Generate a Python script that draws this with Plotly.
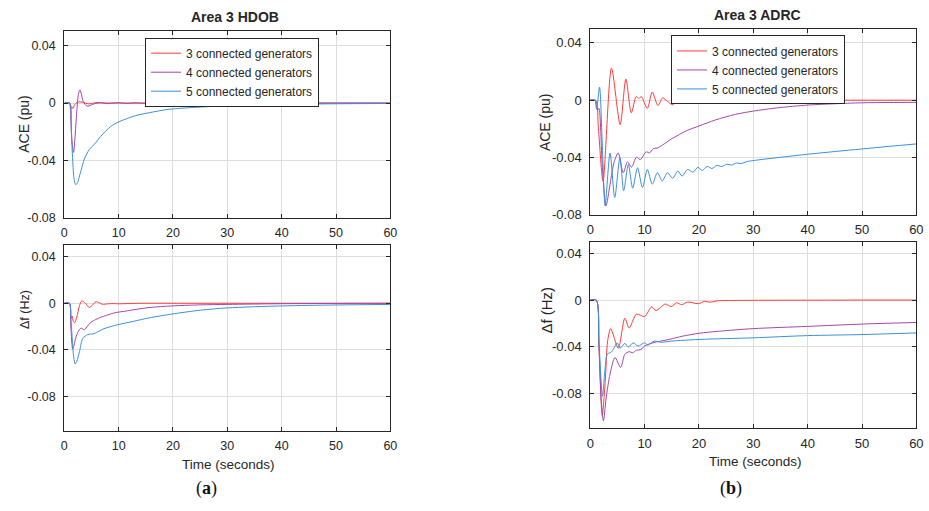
import plotly.graph_objects as go

# ---------------- data ----------------
series_names = ["3 connected generators", "4 connected generators", "5 connected generators"]
x_ticks = [0, 10, 20, 30, 40, 50, 60]
x_tick_text = ["0", "10", "20", "30", "40", "50", "60"]
y_ticks = [-0.08, -0.04, 0, 0.04]
y_tick_text = ["-0.08", "-0.04", "0", "0.04"]

# Area 3 HDOB - ACE (pu)
hdob_ace_t3 = [0, 1.0, 1.15, 1.35, 1.6, 1.9, 2.3, 2.9, 3.6, 4.4, 5.2, 6.0, 7.0, 8.0, 9.0, 10.0, 11.5, 13, 15, 20, 30, 60]
hdob_ace_v3 = [0, 0, -0.0042, -0.0025, -0.0038, -0.0012, 0.0004, 0.0009, 0.0003, -0.0006, -0.0002, 0.0004, 0.0001,
               -0.0004, 0.0, 0.0003, -0.0003, 0.0002, -0.0002, 0, 0, 0]
hdob_ace_t4 = [0, 0.95, 1.2, 1.45, 1.7, 1.95, 2.3, 2.6, 2.85, 3.1, 3.5, 4.2, 4.9, 5.6, 6.5, 8, 10, 15, 60]
hdob_ace_v4 = [0, 0, -0.012, -0.028, -0.0345, -0.025, -0.006, 0.006, 0.0092, 0.007, 0.001, -0.0022, -0.0015, -0.0004,
               0.0001, 0, 0, 0, 0]
hdob_ace_t5 = [0, 1.0, 1.3, 1.55, 1.8, 2.1, 2.45, 2.8, 3.1, 3.7, 4.6, 5.5, 6.7, 8.5, 10.1, 11.6, 13.1, 15.7, 19.2, 25,
               30, 40, 50, 60]
hdob_ace_v5 = [0, 0, -0.02, -0.04, -0.053, -0.057, -0.0555, -0.051, -0.047, -0.039, -0.0325, -0.029, -0.0233, -0.0165,
               -0.013, -0.0108, -0.0088, -0.0067, -0.0044, -0.0028, -0.0019, -0.001, -0.0005, -0.0003]

# Area 3 HDOB - delta f (Hz)
hdob_df_t3 = [0, 0.95, 1.25, 1.45, 1.65, 1.9, 2.3, 2.8, 3.2, 3.9, 4.6, 5.2, 5.8, 6.4, 7.0, 8.0, 9.0, 10, 12, 15, 20, 60]
hdob_df_v3 = [0, 0, -0.013, -0.011, -0.0155, -0.0168, -0.012, -0.002, 0.0019, 0.0, -0.0037, -0.0015, 0.0013, 0.0005,
              -0.0009, -0.0005, -0.0003, -0.0005, -0.0002, 0, 0, 0]
hdob_df_t4 = [0, 0.95, 1.2, 1.55, 1.8, 2.1, 2.6, 3.1, 3.7, 4.3, 4.9, 5.8, 6.7, 7.9, 9.1, 11.6, 15.6, 19.8, 25, 30, 40, 60]
hdob_df_v4 = [0, 0, -0.02, -0.0395, -0.036, -0.03, -0.024, -0.0214, -0.0228, -0.0195, -0.0163, -0.014, -0.0121,
              -0.0102, -0.0084, -0.0065, -0.0037, -0.0023, -0.0014, -0.001, -0.0004, 0]
hdob_df_t5 = [0, 0.95, 1.2, 1.5, 1.75, 2.0, 2.3, 2.8, 3.4, 4.3, 5.5, 7.3, 9.8, 12.8, 15.6, 19.8, 25, 30, 40, 50, 60]
hdob_df_v5 = [0, 0, -0.012, -0.033, -0.047, -0.0522, -0.05, -0.0416, -0.0303, -0.027, -0.0261, -0.0219, -0.0185,
              -0.0155, -0.0126, -0.0093, -0.006, -0.004, -0.0023, -0.0015, -0.001]

# Area 3 ADRC - ACE (pu)
adrc_ace_t3 = [0, 1.0, 1.5, 2.35, 3.9, 5.5, 6.55, 7.55, 8.45, 8.95, 9.4, 10.5, 11.4, 12.45, 13.3, 14.2, 15.2, 16.2,
               17.2, 18.2, 19.2, 20.2, 21.1, 22.3, 23.5, 25, 30, 40, 50, 60]
adrc_ace_v3 = [0, 0, -0.02, -0.0563, 0.0223, -0.017, 0.0148, -0.0088, 0.0025, 0.0012, 0.0025, -0.0057, 0.0057,
               -0.0037, 0.0016, -0.0008, -0.0032, 0.002, -0.0016, 0.001, -0.0004, -0.0012, 0.0002, -0.001, 0, 0, 0,
               0, 0, 0]
adrc_ace_t4 = [0, 0.9, 1.15, 1.33, 1.58, 2.2, 2.9, 3.64, 4.4, 5.15, 6.06, 6.85, 7.58, 8.5, 9.2, 10.3, 10.9, 11.6,
               12.4, 13.3, 14.1, 15.0, 15.9, 16.9, 18.2, 20.0, 23, 26.7, 30, 34.5, 40, 44.8, 50, 55, 60]
adrc_ace_v4 = [0, 0, -0.006, -0.0069, -0.0057, -0.045, -0.0736, -0.0586, -0.043, -0.0368, -0.0506, -0.043, -0.0467,
               -0.0398, -0.0414, -0.036, -0.0368, -0.0338, -0.0333, -0.0312, -0.0292, -0.0268, -0.025, -0.0228,
               -0.0205, -0.018, -0.0138, -0.0099, -0.0076, -0.0053, -0.0034, -0.0025, -0.0018, -0.0016, -0.0015]
adrc_ace_t5 = [0, 0.9, 1.2, 1.7, 2.2, 2.73, 3.64, 4.5, 5.45, 6.15, 7.0, 7.8, 8.7, 9.6, 10.5, 11.4, 12.35, 13.25, 14.2,
               15.15, 16.1, 16.9, 17.9, 18.9, 19.8, 20.6, 21.5, 22.4, 23.3, 24.2, 25.1, 26.0, 26.9, 27.8, 28.7, 30,
               35, 40, 45, 50, 55, 60]
adrc_ace_v5 = [0, 0, -0.005, 0.0092, -0.03, -0.0736, -0.0368, -0.0678, -0.0402, -0.0632, -0.0448, -0.0614, -0.0471,
               -0.0609, -0.0483, -0.0586, -0.0506, -0.0563, -0.0506, -0.0545, -0.0494, -0.0529, -0.0483, -0.0502,
               -0.0468, -0.049, -0.0462, -0.0476, -0.0455, -0.0463, -0.0447, -0.0452, -0.0438, -0.0442, -0.0429,
               -0.0421, -0.0398, -0.0377, -0.0358, -0.034, -0.0322, -0.0305]

# Area 3 ADRC - delta f (Hz)
adrc_df_t3 = [0, 1.1, 1.6, 2.2, 2.75, 3.2, 3.76, 5.15, 6.36, 7.15, 8.5, 10.0, 11.3, 12.1, 13.8, 14.9, 15.9, 16.8, 17.9,
              19.9, 21.0, 22.0, 23.5, 25, 30, 40, 50, 60]
adrc_df_v3 = [0, 0, -0.04, -0.099, -0.07, -0.035, -0.0245, -0.0414, -0.0155, -0.024, -0.0121, -0.0141, -0.0058,
              -0.009, -0.0034, -0.0056, -0.0023, -0.004, -0.0017, -0.0031, -0.0011, -0.0018, -0.0006, -0.0004,
              -0.0002, -0.0001, 0, 0]
adrc_df_t4 = [0, 1.1, 1.6, 2.0, 2.42, 2.9, 3.64, 4.55, 5.58, 6.36, 7.15, 7.8, 8.5, 9.3, 10, 11.5, 14.5, 17, 20, 23.6,
              30, 40, 50, 60]
adrc_df_v4 = [0, 0, -0.04, -0.085, -0.1037, -0.085, -0.0634, -0.0493, -0.0578, -0.0465, -0.0443, -0.0452, -0.0431,
              -0.0425, -0.0395, -0.0367, -0.0338, -0.031, -0.0285, -0.0268, -0.0245, -0.0226, -0.0206, -0.0192]
adrc_df_t5 = [0, 1.1, 1.6, 2.25, 2.7, 3.15, 3.94, 4.97, 5.45, 6.36, 6.97, 7.88, 8.8, 10.0, 10.6, 11.8, 13, 15, 20, 30,
              40, 50, 60]
adrc_df_v5 = [0, 0, -0.036, -0.0826, -0.06, -0.0465, -0.0443, -0.0367, -0.0414, -0.0372, -0.0403, -0.0367, -0.0395,
              -0.0367, -0.0386, -0.0352, -0.0362, -0.0352, -0.0338, -0.0324, -0.0305, -0.0296, -0.0282]

# ---------------- styling ----------------
W, H = 929, 511
colors = ["#ff3b3b", "#a347a8", "#3b8fd9"]
axis_col = "#262626"
grid_col = "#dedede"
FONT = "Liberation Sans, Arial, sans-serif"


def dx(a, b):
    return [a / W, b / W]


def dy(top, bottom):
    return [1 - bottom / H, 1 - top / H]


fig = go.Figure()

panels = [
    ("x", "y", [(hdob_ace_t3, hdob_ace_v3), (hdob_ace_t4, hdob_ace_v4), (hdob_ace_t5, hdob_ace_v5)], "legend"),
    ("x2", "y2", [(hdob_df_t3, hdob_df_v3), (hdob_df_t4, hdob_df_v4), (hdob_df_t5, hdob_df_v5)], None),
    ("x3", "y3", [(adrc_ace_t3, adrc_ace_v3), (adrc_ace_t4, adrc_ace_v4), (adrc_ace_t5, adrc_ace_v5)], "legend2"),
    ("x4", "y4", [(adrc_df_t3, adrc_df_v3), (adrc_df_t4, adrc_df_v4), (adrc_df_t5, adrc_df_v5)], None),
]

for xa, ya, data, leg in panels:
    for i, (t, v) in enumerate(data):
        fig.add_trace(go.Scatter(
            x=t, y=v, mode="lines", xaxis=xa, yaxis=ya,
            name=series_names[i],
            line=dict(color=colors[i], width=1, shape="spline", smoothing=0.8),
            showlegend=leg is not None,
            legend=leg if leg else "legend",
            hoverinfo="skip",
        ))


def xaxis(domain, anchor, fs):
    return dict(domain=domain, anchor=anchor, range=[0, 60], tickvals=x_ticks, ticktext=x_tick_text,
                showline=True, mirror="ticks", linecolor=axis_col, linewidth=1,
                ticks="inside", ticklen=4, tickcolor=axis_col,
                showgrid=True, gridcolor=grid_col, gridwidth=1, zeroline=False,
                tickfont=dict(family=FONT, size=fs, color=axis_col), ticklabelstandoff=3)


def yaxis(domain, anchor, rng, fs):
    return dict(domain=domain, anchor=anchor, range=rng, tickvals=y_ticks, ticktext=y_tick_text,
                showline=True, mirror="ticks", linecolor=axis_col, linewidth=1,
                ticks="inside", ticklen=4, tickcolor=axis_col,
                showgrid=True, gridcolor=grid_col, gridwidth=1, zeroline=False,
                tickfont=dict(family=FONT, size=fs, color=axis_col), ticklabelstandoff=5)


legend_common = dict(
    bgcolor="white", bordercolor=axis_col, borderwidth=1,
    font=dict(family=FONT, size=12, color=axis_col),
    xanchor="left", yanchor="top", tracegroupgap=0,
)

fig.update_layout(
    width=W, height=H, margin=dict(l=0, r=0, t=0, b=0),
    paper_bgcolor="white", plot_bgcolor="white",
    xaxis=xaxis(dx(61, 391), "y", 12.5),
    yaxis=yaxis(dy(32, 221), "x", [-0.08, 0.05], 12.5),
    xaxis2=xaxis(dx(61, 391), "y2", 12.5),
    yaxis2=yaxis(dy(249, 438), "x2", [-0.11, 0.05], 12.5),
    xaxis3=xaxis(dx(593.3, 923.3), "y3", 13),
    yaxis3=yaxis(dy(29, 218.3), "x3", [-0.08, 0.05], 13),
    xaxis4=xaxis(dx(593.3, 923.3), "y4", 13),
    yaxis4=yaxis(dy(245.7, 435), "x4", [-0.11, 0.05], 13),
    legend=dict(x=142.7 / W, y=1 - 38.3 / H, **legend_common),
    legend2=dict(x=675 / W, y=1 - 36 / H, **legend_common),
    showlegend=True,
)

annotations = [
    dict(text="<b>Area 3 HDOB</b>", x=233.3 / W, y=1 - 17 / H, size=14, angle=0),
    dict(text="<b>Area 3 ADRC</b>", x=762.5 / W, y=1 - 15 / H, size=14, angle=0),
    dict(text="ACE (pu)", x=19.5 / W, y=1 - 125.5 / H, size=14, angle=-90),
    dict(text="Δf (Hz)", x=21.5 / W, y=1 - 314.7 / H, size=12.5, angle=-90),
    dict(text="ACE (pu)", x=547.5 / W, y=1 - 124 / H, size=14, angle=-90),
    dict(text="Δf (Hz)", x=549 / W, y=1 - 315 / H, size=15, angle=-90),
    dict(text="Time (seconds)", x=227.5 / W, y=1 - 471.7 / H, size=13.5, angle=0),
    dict(text="Time (seconds)", x=760.8 / W, y=1 - 469.3 / H, size=13.5, angle=0),
]
for a in annotations:
    fig.add_annotation(text=a["text"], x=a["x"], y=a["y"], xref="paper", yref="paper",
                       xanchor="center", yanchor="middle", showarrow=False, textangle=a["angle"],
                       font=dict(family=FONT, size=a["size"], color=axis_col))

for txt, xc in [("(<b>a</b>)", 205), ("(<b>b</b>)", 735.8)]:
    fig.add_annotation(text=txt, x=xc / W, y=1 - 496.7 / H, xref="paper", yref="paper",
                       xanchor="center", yanchor="middle", showarrow=False,
                       font=dict(family="Liberation Serif, DejaVu Serif, serif", size=18, color="#111111"))

fig.write_html("out.html")
